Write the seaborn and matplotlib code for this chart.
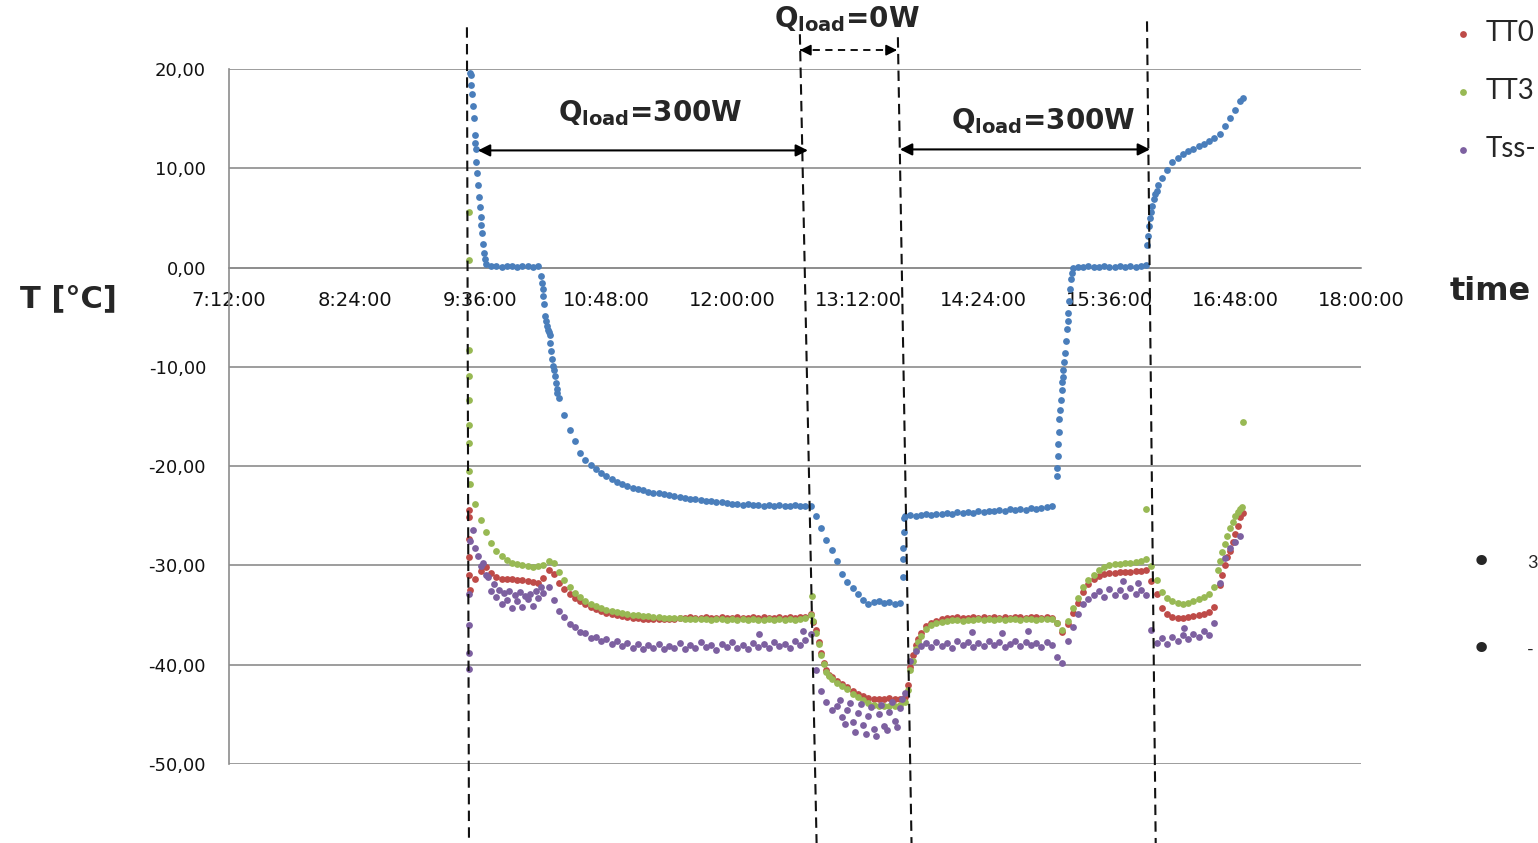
import numpy as np
import matplotlib
matplotlib.use("Agg")
import matplotlib.pyplot as plt
import seaborn as sns
from matplotlib.ticker import FuncFormatter

# readings every 3 min, minutes after midnight (9:30 .. 16:51)
t_grid = np.arange(570, 1012, 3)

blue = [19.6, 12.5, 5.1, 0.4, 0.2, 0.2, 0.1, 0.2, 0.2, 0.1,
        0.2, 0.2, 0.1, 0.2, -2.9, -6.5, -10.3, -13.1, -14.8, -16.4,
        -17.5, -18.7, -19.4, -19.9, -20.3, -20.7, -21.0, -21.3, -21.6, -21.8,
        -22.0, -22.2, -22.3, -22.4, -22.6, -22.7, -22.7, -22.8, -22.9, -23.0,
        -23.1, -23.2, -23.3, -23.3, -23.4, -23.5, -23.5, -23.6, -23.6, -23.7,
        -23.8, -23.8, -23.9, -23.8, -23.9, -23.9, -24.0, -23.9, -24.0, -23.9,
        -24.0, -24.0, -23.9, -24.0, -24.0, -24.0, -25.0, -26.2, -27.4, -28.4,
        -29.6, -30.9, -31.7, -32.3, -32.9, -33.5, -33.9, -33.7, -33.6, -33.8,
        -33.7, -33.9, -33.8, -25.0, -24.9, -25.0, -24.9, -24.8, -24.9, -24.8,
        -24.8, -24.7, -24.8, -24.6, -24.7, -24.6, -24.7, -24.5, -24.6, -24.5,
        -24.5, -24.4, -24.5, -24.3, -24.4, -24.3, -24.4, -24.2, -24.3, -24.2,
        -24.1, -24.0, -21.0, -11.5, -5.4, 0.0, 0.1, 0.1, 0.2, 0.1,
        0.1, 0.2, 0.1, 0.1, 0.2, 0.1, 0.2, 0.1, 0.2, 0.3,
        5.6, 7.7, 9.0, 9.8, 10.6, 11.0, 11.4, 11.7, 11.9, 12.2,
        12.4, 12.7, 13.0, 13.5, 14.3, 15.1, 15.9, 16.8]

red = [-32.5, -31.4, -30.6, -30.2, -30.8, -31.2, -31.4, -31.4, -31.4, -31.5,
       -31.5, -31.6, -31.7, -31.8, -31.3, -30.5, -30.9, -31.8, -32.4, -32.9,
       -33.3, -33.6, -33.9, -34.2, -34.4, -34.6, -34.8, -34.9, -35.0, -35.1,
       -35.2, -35.3, -35.3, -35.4, -35.4, -35.4, -35.4, -35.4, -35.4, -35.4,
       -35.3, -35.3, -35.2, -35.3, -35.3, -35.2, -35.3, -35.3, -35.2, -35.3,
       -35.3, -35.2, -35.3, -35.3, -35.2, -35.3, -35.2, -35.3, -35.3, -35.2,
       -35.3, -35.2, -35.3, -35.2, -35.2, -34.9, -36.5, -38.8, -40.5, -41.2,
       -41.6, -41.9, -42.2, -42.6, -42.9, -43.2, -43.4, -43.5, -43.5, -43.5,
       -43.4, -43.5, -43.5, -43.3, -40.2, -38.0, -36.8, -36.1, -35.8, -35.6,
       -35.4, -35.3, -35.3, -35.2, -35.3, -35.3, -35.2, -35.3, -35.2, -35.3,
       -35.2, -35.3, -35.2, -35.3, -35.2, -35.2, -35.3, -35.2, -35.2, -35.3,
       -35.2, -35.3, -35.8, -36.7, -35.9, -34.8, -33.8, -32.7, -31.9, -31.4,
       -31.1, -30.9, -30.8, -30.8, -30.7, -30.7, -30.7, -30.6, -30.6, -30.5,
       -31.6, -32.9, -34.3, -34.9, -35.2, -35.3, -35.3, -35.2, -35.1, -35.0,
       -34.9, -34.7, -34.2, -32.0, -30.0, -28.5, -26.8, -25.1]

green = [-21.8, -23.8, -25.4, -26.6, -27.7, -28.5, -29.1, -29.5, -29.8, -29.9,
         -30.0, -30.1, -30.2, -30.1, -30.0, -29.6, -29.8, -30.7, -31.5, -32.2,
         -32.8, -33.2, -33.6, -33.9, -34.1, -34.3, -34.5, -34.6, -34.7, -34.8,
         -34.9, -35.0, -35.0, -35.1, -35.1, -35.2, -35.2, -35.3, -35.3, -35.3,
         -35.3, -35.4, -35.4, -35.4, -35.4, -35.4, -35.5, -35.4, -35.4, -35.5,
         -35.4, -35.5, -35.4, -35.5, -35.4, -35.5, -35.5, -35.4, -35.5, -35.4,
         -35.5, -35.4, -35.5, -35.4, -35.3, -35.0, -36.8, -39.0, -40.7, -41.4,
         -41.8, -42.1, -42.4, -42.9, -43.3, -43.6, -43.9, -44.1, -44.2, -44.2,
         -44.2, -44.2, -44.1, -43.8, -40.5, -38.4, -37.1, -36.4, -36.0, -35.8,
         -35.7, -35.6, -35.5, -35.5, -35.6, -35.5, -35.5, -35.4, -35.5, -35.4,
         -35.5, -35.4, -35.5, -35.4, -35.4, -35.5, -35.4, -35.4, -35.5, -35.4,
         -35.4, -35.4, -35.8, -36.5, -35.6, -34.3, -33.3, -32.2, -31.5, -31.0,
         -30.5, -30.2, -30.0, -29.9, -29.9, -29.8, -29.8, -29.7, -29.6, -29.4,
         -30.1, -31.5, -32.7, -33.3, -33.6, -33.8, -33.9, -33.8, -33.6, -33.4,
         -33.2, -32.9, -32.2, -29.6, -27.8, -26.2, -25.0, -24.3]

purple = [-27.5, -28.2, -30.1, -31.0, -32.6, -33.2, -33.9, -33.5, -34.3, -33.6,
          -34.2, -33.4, -34.1, -33.3, -32.8, -32.2, -33.5, -34.6, -35.2, -35.9,
          -36.2, -36.7, -36.8, -37.3, -37.2, -37.6, -37.4, -37.9, -37.6, -38.1,
          -37.8, -38.3, -37.9, -38.4, -38.0, -38.3, -37.9, -38.4, -38.1, -38.3,
          -37.8, -38.4, -38.0, -38.3, -37.7, -38.2, -38.0, -38.5, -37.9, -38.2,
          -37.7, -38.3, -38.0, -38.4, -37.8, -38.2, -37.9, -38.3, -37.7, -38.1,
          -37.9, -38.3, -37.6, -38.0, -37.5, -36.9, -40.5, -42.6, -43.8, -44.6,
          -44.2, -45.3, -44.6, -45.8, -44.9, -46.1, -45.2, -46.5, -45.0, -46.2,
          -44.8, -45.7, -44.4, -42.8, -39.6, -38.6, -38.1, -37.8, -38.2, -37.7,
          -38.1, -37.8, -38.3, -37.6, -38.0, -37.7, -38.2, -37.8, -38.1, -37.6,
          -38.0, -37.7, -38.2, -37.9, -37.6, -38.1, -37.7, -38.0, -37.8, -38.2,
          -37.7, -38.0, -39.2, -39.8, -37.6, -36.2, -34.9, -33.9, -33.4, -33.0,
          -32.6, -33.2, -32.4, -33.0, -32.5, -33.1, -32.3, -32.9, -32.5, -33.0,
          -36.5, -37.8, -37.3, -37.9, -37.2, -37.6, -37.0, -37.4, -36.9, -37.2,
          -36.6, -37.0, -35.8, -31.8, -29.3, -28.2, -27.6, -27.0]

# extra readings on the steep parts and stray points
blue_xt = [570.3, 570.8, 571.3, 571.8, 572.2, 572.7, 573.2, 573.6, 574.1, 574.6,
           575.1, 575.5, 576.5, 577.0, 577.5, 577.9, 578.4,
           610.5, 611.0, 611.5, 612.5, 613.0, 613.5, 614.0, 614.5, 615.5, 616.0,
           616.5, 617.0, 617.5, 618.5, 619.0, 619.5, 620.0,
           817.6, 817.6, 817.8, 818.2, 818.5,
           906.2, 906.5, 906.8, 907.0, 907.4, 907.7, 908.1, 908.6, 909.2, 909.6,
           910.0, 910.5, 911.0, 911.5, 912.5, 913.0, 913.4, 914.0, 914.5,
           957.3, 957.8, 958.5, 959.2, 960.5, 961.3, 962.1, 964.0, 1012.6]
blue_xv = [19.4, 18.4, 17.5, 16.3, 15.1, 13.4, 11.9, 10.6, 9.5, 8.3,
           7.1, 6.1, 4.3, 3.5, 2.4, 1.5, 0.9,
           -0.8, -1.6, -2.2, -3.7, -4.9, -5.4, -5.9, -6.3, -6.8, -7.6,
           -8.4, -9.2, -9.9, -10.9, -11.6, -12.2, -12.6,
           -31.2, -29.4, -28.2, -26.6, -25.2,
           -20.2, -19.0, -17.8, -16.6, -15.3, -14.3, -13.3, -12.3, -11.0, -10.3,
           -9.5, -8.6, -7.4, -6.2, -4.6, -3.4, -2.2, -1.2, -0.5,
           2.3, 3.2, 4.2, 5.0, 6.2, 6.9, 7.4, 8.3, 17.1]

red_xt = [569.2, 569.2, 569.2, 569.2, 569.4, 766.5, 769.5, 772.5, 775.5,
          820.5, 823.5, 826.5, 1000.5, 1003.5, 1006.5, 1009.5, 1012.6]
red_xv = [-24.4, -25.1, -27.3, -29.2, -31.0, -35.7, -37.7, -39.8, -41.0,
          -42.0, -39.0, -37.4, -31.0, -29.2, -27.6, -26.0, -24.7]

green_xt = [569.3, 569.3, 569.3, 569.3, 569.3, 569.3, 569.3, 569.5,
            765.5, 766.5, 769.5, 772.5, 775.5, 820.5, 823.5, 826.5,
            956.9, 998.0, 1000.5, 1003.5, 1006.5, 1009.5, 1012.0, 1012.6]
green_xv = [5.6, 0.8, -8.3, -10.9, -13.3, -15.9, -17.7, -20.5,
            -33.1, -35.6, -37.9, -39.9, -41.1, -42.5, -39.6, -37.7,
            -24.3, -30.5, -28.6, -27.0, -25.6, -24.6, -24.1, -15.6]

purple_xt = [569.2, 569.2, 569.2, 569.2,
             571.5, 574.5, 577.5, 580.5, 583.5, 586.5, 589.5, 592.5, 595.5,
             598.5, 601.5, 604.5, 607.5, 610.5,
             781.5, 784.5, 787.5, 790.5, 793.5, 796.5, 799.5, 802.5, 805.5,
             808.5, 811.5, 814.5, 817.5,
             735.5, 760.5, 857.5, 874.5, 889.5, 943.5, 952.5, 978.5]
purple_xv = [-32.9, -36.0, -38.8, -40.4,
             -26.4, -29.0, -29.8, -31.2, -31.9, -32.5, -32.8, -32.6, -33.0,
             -32.7, -33.1, -32.9, -32.6, -32.2,
             -43.6, -46.0, -43.9, -46.8, -44.0, -47.0, -44.3, -47.2, -44.1,
             -46.6, -43.8, -46.3, -43.5,
             -36.9, -36.6, -36.7, -36.8, -36.6, -31.6, -31.8, -36.3]

x_ticklabels = ["7:12:00", "8:24:00", "9:36:00", "10:48:00", "12:00:00",
                "13:12:00", "14:24:00", "15:36:00", "16:48:00", "18:00:00"]
y_ticks = [-50, -40, -30, -20, -10, 0, 10, 20]

# load-step markers (minutes after midnight)
div_top_t = [568.2, 758.8, 814.9, 957.5]
div_bot_t = [569.4, 768.6, 822.9, 962.6]
div_top_y = [24.2, 23.5, 23.2, 24.8]
phase_labels = ["=300W", "=0W", "=300W"]
phase_label_t = [673, 786, 898]
phase_label_y = [15.6, 25.0, 14.8]
arrow_t0 = [574.5, 758.8, 816.1]
arrow_t1 = [763.4, 814.4, 959.2]
arrow_y = [11.8, 21.9, 11.9]

BLUE, RED, GREEN, PURPLE = "#4a7ebb", "#be4b48", "#98b954", "#7d60a0"
GRID = "#8c8c8c"

sns.set_style("white")
plt.rcParams["font.family"] = ["DejaVu Sans"]

W, H = 1538, 843
fig = plt.figure(figsize=(W / 100, H / 100), dpi=100)
ax = fig.add_axes([229 / W, 1 - 764 / H, 1132 / W, 695 / H])


def hrs(m):
    return np.asarray(m, dtype=float) / 60.0


series = [(blue, blue_xt, blue_xv, BLUE, None),
          (red, red_xt, red_xv, RED, "TT0"),
          (green, green_xt, green_xv, GREEN, "TT3"),
          (purple, purple_xt, purple_xv, PURPLE, "Tss-")]
for vals, xt, xv, col, lab in series:
    sns.scatterplot(x=hrs(np.concatenate([t_grid, xt])),
                    y=np.concatenate([vals, xv]),
                    color=col, s=24, linewidth=0, ax=ax, label=lab, zorder=3)

handles, labels = ax.get_legend_handles_labels()
if ax.get_legend() is not None:
    ax.get_legend().remove()

# axes
ax.set_xlim(7.2, 18.0)
ax.set_ylim(-50, 20)
tick_pos = [int(s.split(":")[0]) + int(s.split(":")[1]) / 60 for s in x_ticklabels]
ax.set_xticks(tick_pos)
ax.set_xticklabels(x_ticklabels)
ax.set_yticks(y_ticks)
ax.yaxis.set_major_formatter(FuncFormatter(lambda v, p: f"{v:.2f}".replace(".", ",")))
ax.set_axisbelow(True)
ax.yaxis.grid(True, color=GRID, lw=1.2)
ax.xaxis.grid(False)
for s in ["top", "right"]:
    ax.spines[s].set_visible(False)
ax.spines["bottom"].set_position(("data", 0))
ax.spines["bottom"].set_color(GRID)
ax.spines["bottom"].set_linewidth(1.2)
ax.spines["left"].set_color(GRID)
ax.spines["left"].set_linewidth(1.2)
ax.tick_params(axis="x", direction="out", length=5, width=1.1, color=GRID,
               pad=12, labelsize=14, labelcolor="#111111")
ax.tick_params(axis="y", direction="out", length=4.5, width=1.1, color=GRID,
               pad=12, labelsize=13, labelcolor="#111111")

ax.set_ylabel("T [°C]", rotation=0, fontsize=22, fontweight="bold",
              ha="center", va="center")
ax.yaxis.set_label_coords(-0.142, 0.670)
ax.set_xlabel("time", fontsize=23, fontweight="bold", ha="left", va="center")
ax.xaxis.set_label_coords((1450 - 229) / 1132, (764 - 292) / 695)

# dashed dividers
for t0, t1, y0 in zip(div_top_t, div_bot_t, div_top_y):
    ax.plot(hrs([t0, t1]), [y0, -60], color="#111111", lw=1.5,
            ls=(0, (5, 3)), clip_on=False, zorder=4)

# phase arrows and labels
for i, (a0, a1, ay) in enumerate(zip(arrow_t0, arrow_t1, arrow_y)):
    if phase_labels[i] == "=0W":
        ax.plot(hrs([a0, a1]), [ay, ay], color="black", lw=1.3,
                ls=(0, (4, 3)), clip_on=False, zorder=5)
        for tip, tail in [(a0, a0 + 6), (a1, a1 - 6)]:
            ax.annotate("", xy=(tip / 60, ay), xytext=(tail / 60, ay),
                        arrowprops=dict(arrowstyle="-|>", color="black", lw=1.3,
                                        mutation_scale=16, shrinkA=0, shrinkB=0),
                        annotation_clip=False, zorder=5)
    else:
        ax.annotate("", xy=(a1 / 60, ay), xytext=(a0 / 60, ay),
                    arrowprops=dict(arrowstyle="<|-|>", color="black", lw=1.5,
                                    mutation_scale=18, shrinkA=0, shrinkB=0),
                    annotation_clip=False, zorder=5)
for lab, lt, ly in zip(phase_labels, phase_label_t, phase_label_y):
    ax.text(lt / 60, ly, r"Q$_{\mathbf{load}}$" + lab, ha="center", va="center",
            fontsize=20, fontweight="bold", clip_on=False, zorder=6)

# legend at the right edge of the slide
fig.legend(handles, labels, loc="upper left",
           bbox_to_anchor=(1455 / W, 1 - 20 / H), frameon=False,
           handlelength=0.6, handletextpad=0.5,
           labelspacing=1.15, borderpad=0, borderaxespad=0,
           prop={"family": "Lato", "size": 20})

# bullets of the slide text on the right
for by, frag in [(563, "3"), (650, "-")]:
    fig.text(1481 / W, 1 - by / H, "\u2022", fontsize=26, ha="center", va="center")
    fig.text(1527 / W, 1 - by / H, frag, fontsize=13, ha="left", va="center",
             family="Lato")

fig.savefig("out.png", dpi=100)
